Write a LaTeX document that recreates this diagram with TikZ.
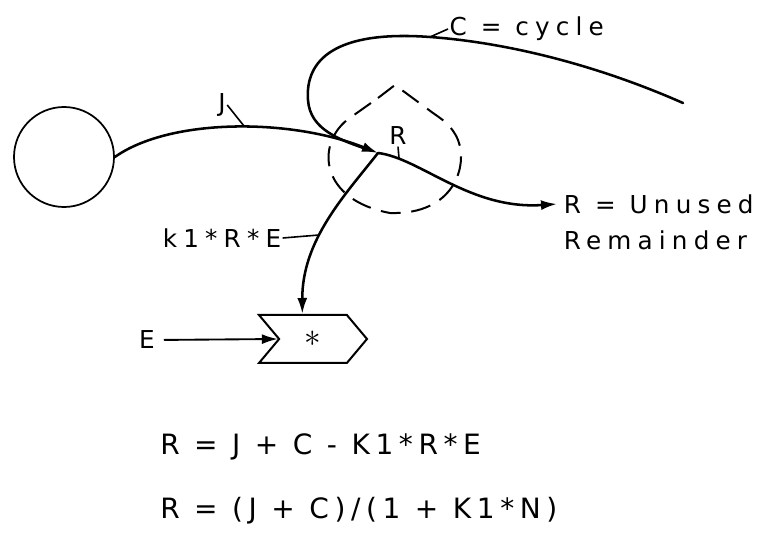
\documentclass[tikz,border=0pt]{standalone}
\usepackage{fontspec}
\setmainfont{DejaVu Sans}
\newfontfamily\flowfont[LetterSpace=25]{DejaVu Sans}
\newfontfamily\eqnfont[LetterSpace=20]{DejaVu Sans}
\usetikzlibrary{arrows.meta, shapes.symbols}

\begin{document}
\begin{tikzpicture}[x=0.75pt, y=-0.75pt,
        flow/.style={line width=1.9pt, line cap=round},
        flowarr/.style={flow, -{Latex[length=12pt,width=7.5pt]}},
        lbl/.style={font=\flowfont\fontsize{18.5}{22}\selectfont, inner sep=1pt},
        endlbl/.style={lbl, anchor=west, inner xsep=5pt},
        eqn/.style={font=\eqnfont\fontsize{21}{25}\selectfont, anchor=base west, inner sep=0pt},
        tick/.style={line width=1.2pt}]
        \useasboundingbox (0,0) rectangle (758,538);
        % source and the three flows round R
        \node[draw, circle, line width=1.3pt, minimum size=75pt] (src) at (64,157) {};
        \coordinate (jn) at (378,153);
        \coordinate (cend) at (683,103);
        \coordinate (cfoot) at (430,37);
        \draw[flowarr] (src.east) .. controls (170,118) and (290,118) .. (jn);
        \draw[flow, shorten >=6pt] (cend) .. controls (590,62) and (500,42) .. (cfoot) .. controls (335,30) and (305,60) .. (308,100) .. controls (310,130) and (340,140) .. (jn);
        \node[lbl] (jlab) at (222,105) {J};
        \coordinate (jfoot) at (244,126);
        \draw[tick] (jlab.east) -- (jfoot);
        \node[lbl, anchor=west] (clab) at (448,29) {C = cycle};
        \draw[tick] (cfoot) -- (clab.west);
        % the pool R
        \draw[line width=1.5pt, dash pattern=on 15pt off 8pt] (378,98) -- (395,85) -- (433,113) .. controls (440,118) and (452,125) .. (458,140) .. controls (468,165) and (455,215) .. (390,213) .. controls (320,200) and (316,145) .. (347,120) -- cycle;
        \node[lbl] (rname) at (398,136) {R};
        \coordinate (rfoot) at (399,158);
        \draw[tick] (rname.south) -- (rfoot);
        \node[endlbl] (unused) at (557,204) {R = Unused};
        \node[endlbl] (remain) at (557,240) {Remainder};
        \draw[flowarr] (jn) .. controls (420,158) and (470,210) .. (unused.west);
        % multiplier
        \node[draw, signal, signal from=west, signal to=east, signal pointer angle=100, line width=1.5pt, minimum width=81pt, minimum height=36pt, font=\fontsize{26}{28}\selectfont] (mult) at (313,339) {$*$};
        \draw[flowarr] (jn) .. controls (345,195) and (302,240) .. ([xshift=-8pt]mult.north);
        \node[lbl] (klab) at (222,238) {k1*R*E};
        \coordinate (kfoot) at (319,235);
        \draw[tick] (klab.east) -- (kfoot);
        \node[lbl] (elab) at (147,340) {E};
        \draw[flowarr, line width=1.4pt, shorten <=6pt] (elab.east) -- (mult.west);
        % equations
        \node[eqn] (eqa) at (160,455) {R = J + C - K1*R*E};
        \node[eqn] (eqb) at (160,519) {R = (J + C)/(1 + K1*N)};
\end{tikzpicture}
\end{document}
